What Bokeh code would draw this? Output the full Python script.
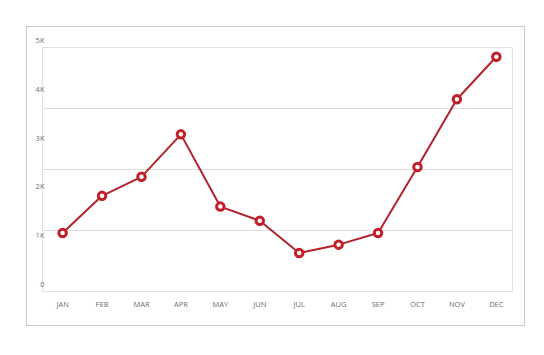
from bokeh.plotting import figure
from bokeh.models import ColumnDataSource, FixedTicker, Range1d
from bokeh.embed import file_html
from bokeh.resources import INLINE

months = ["JAN", "FEB", "MAR", "APR", "MAY", "JUN",
          "JUL", "AUG", "SEP", "OCT", "NOV", "DEC"]
values = [1200, 1960, 2350, 3220, 1740, 1450, 790, 960, 1200, 2550, 3940, 4810]
y_ticks = [0, 1000, 2000, 3000, 4000, 5000]
y_tick_labels = ["0", "1K", "2K", "3K", "4K", "5K"]
grid_ticks = [0, 1250, 2500, 3750, 5000]

FONT = "Open Sans"

xs = list(range(len(months)))
src = ColumnDataSource(dict(x=xs, y=values))

p = figure(width=497, height=298, output_backend="svg", toolbar_location=None,
           x_range=Range1d(-0.51, len(months) - 1 + 0.41),
           y_range=Range1d(0, 5000),
           min_border_left=15, min_border_right=14,
           min_border_top=20, min_border_bottom=36)
p.styles = {"margin-left": "26px", "margin-top": "26px",
            "border": "1px solid #c9c9c9", "box-sizing": "content-box"}

p.background_fill_color = "white"
p.border_fill_color = "white"
p.outline_line_color = "#e2e2e2"
p.outline_line_width = 1

p.xgrid.visible = False
p.ygrid.ticker = FixedTicker(ticks=grid_ticks)
p.ygrid.grid_line_color = "#dedede"
p.ygrid.grid_line_width = 1

ya = p.yaxis[0]
ya.ticker = FixedTicker(ticks=y_ticks)
# trailing newline lifts each label so it sits just above its value
ya.major_label_overrides = {t: l + "\n" for t, l in zip(y_ticks, y_tick_labels)}
ya.axis_line_color = None
ya.major_tick_line_color = None
ya.minor_tick_line_color = None
ya.major_tick_out = 0
ya.major_tick_in = 0
ya.major_label_standoff = -2
ya.major_label_text_align = "left"
ya.major_label_text_font = FONT
ya.major_label_text_font_size = "7.5px"
ya.major_label_text_line_height = 1.5
ya.major_label_text_color = "#707070"

xa = p.xaxis[0]
xa.ticker = FixedTicker(ticks=xs)
xa.major_label_overrides = {i: m for i, m in enumerate(months)}
xa.axis_line_color = None
xa.major_tick_line_color = None
xa.minor_tick_line_color = None
xa.major_tick_out = 0
xa.major_tick_in = 0
xa.major_label_standoff = 7
xa.major_label_text_font = FONT
xa.major_label_text_font_size = "7.5px"
xa.major_label_text_color = "#6e6e6e"

p.line("x", "y", source=src, line_color="#b3232b", line_width=2)
p.scatter("x", "y", source=src, size=7.5, marker="circle",
          fill_color="white", line_color="#c1202b", line_width=3)

open("out.html", "w").write(file_html(p, INLINE))
